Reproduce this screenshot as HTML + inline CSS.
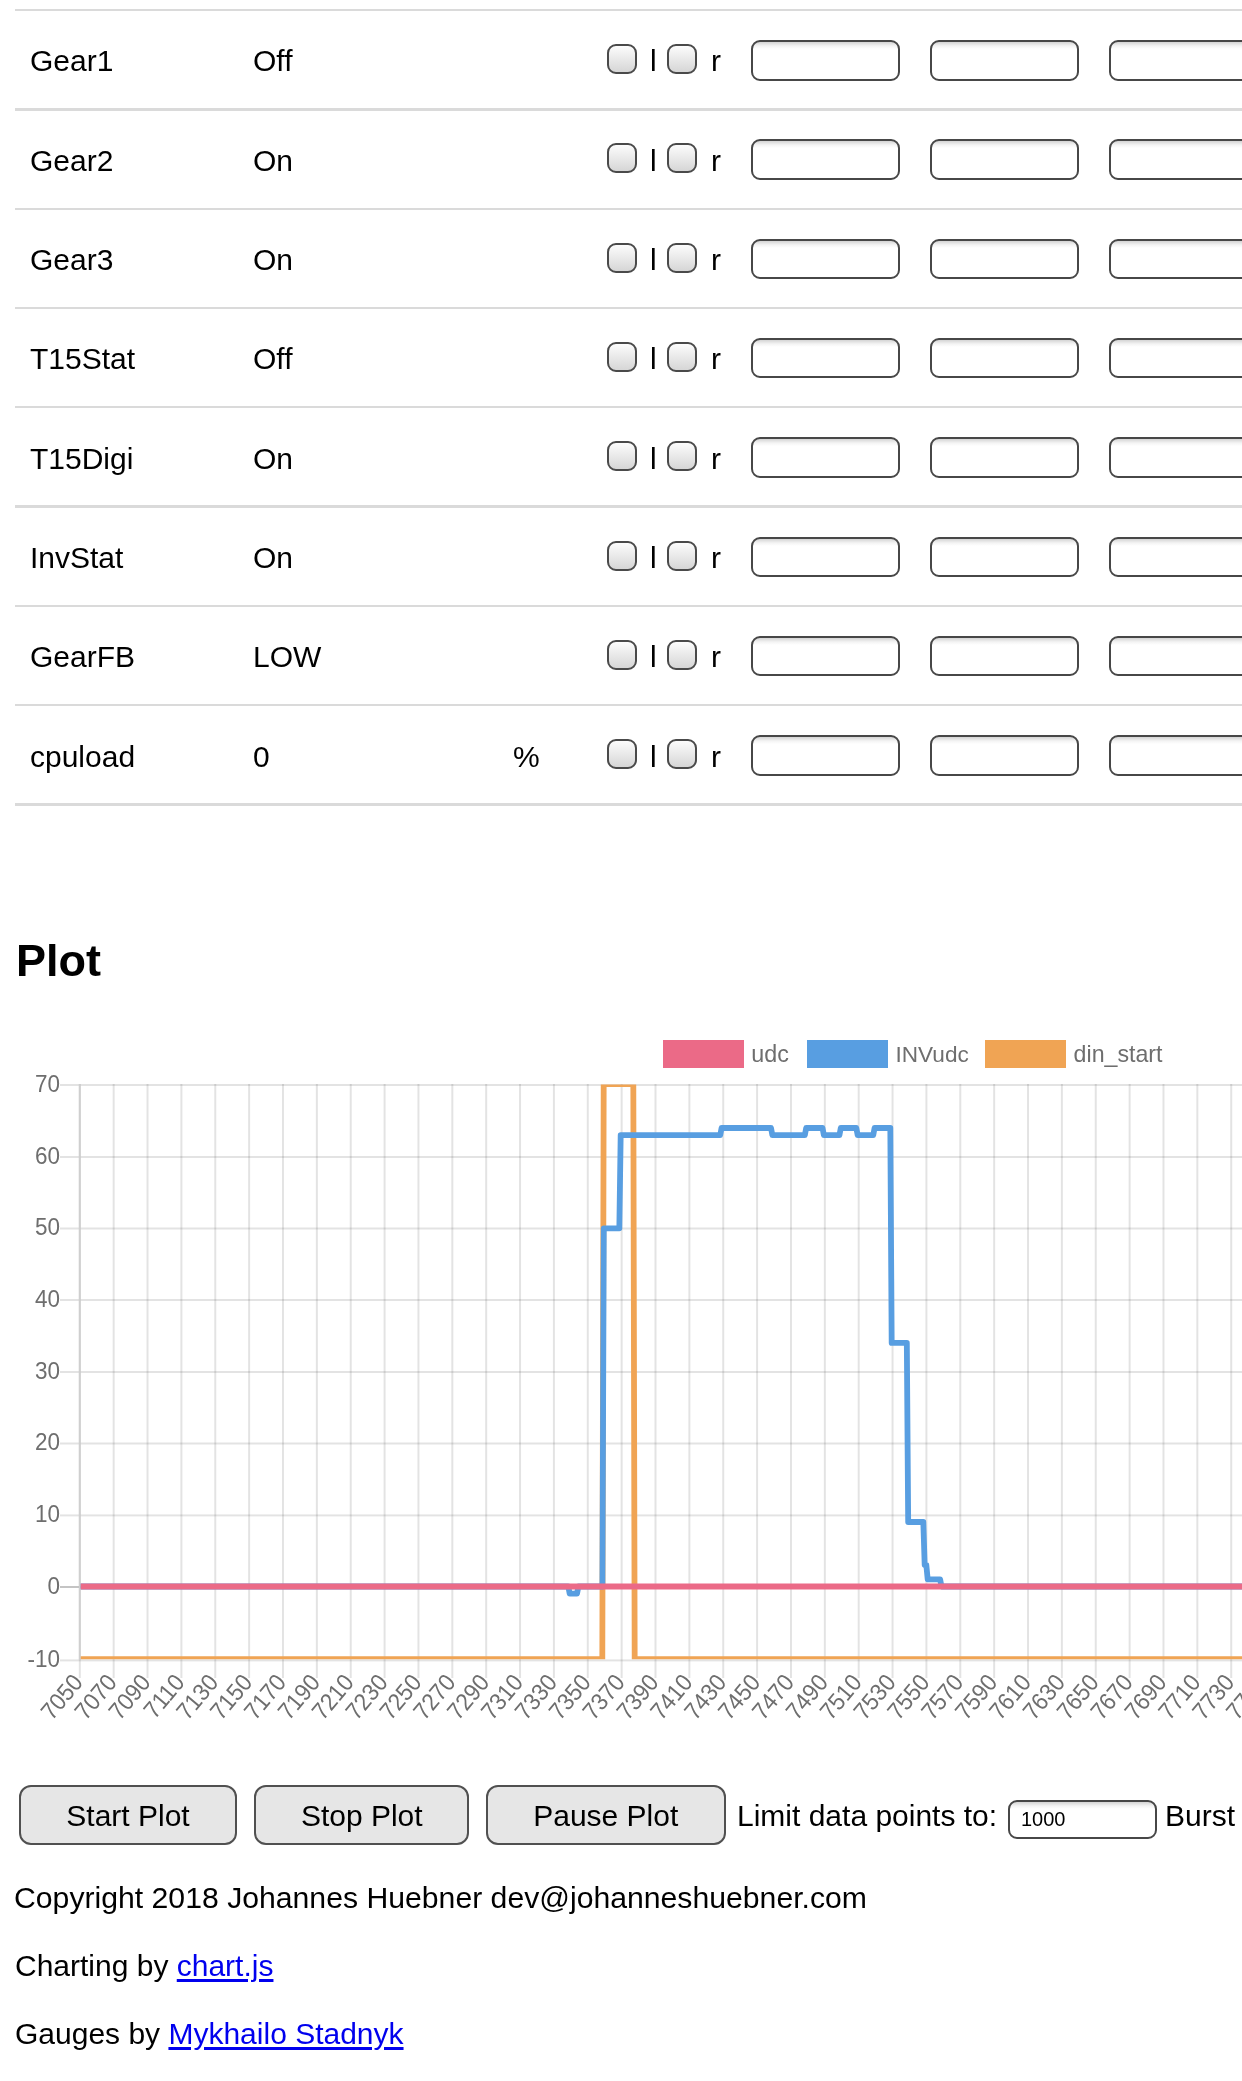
<!DOCTYPE html><html><head><meta charset="utf-8"><style>
html,body{margin:0;padding:0;background:#fff;}
body{width:1242px;height:2081px;overflow:hidden;position:relative;font-family:"Liberation Sans",sans-serif;}
.t{position:absolute;white-space:nowrap;will-change:transform;}
.line{position:absolute;left:15px;width:1227px;height:2.4px;background:#dadada;}
.cb{position:absolute;width:26px;height:26px;border:2px solid #4a4a4a;border-radius:9px;background:linear-gradient(#fcfcfc,#d6d6d6);}
.in{position:absolute;width:145px;height:36.6px;border:2px solid #474747;border-radius:9px;background:linear-gradient(#d4d4d4,#f4f4f4 4px,#fff 7px);}
.btn{position:absolute;height:59.5px;border:2px solid #505050;border-radius:12px;background:#e6e6e6;box-sizing:border-box;}
a{color:#0000ee;text-decoration:underline;text-underline-offset:3px;}
</style></head><body>
<div class="line" style="top:8.9px"></div>
<div class="line" style="top:108.2px"></div>
<div class="line" style="top:207.5px"></div>
<div class="line" style="top:306.8px"></div>
<div class="line" style="top:406.1px"></div>
<div class="line" style="top:505.4px"></div>
<div class="line" style="top:604.7px"></div>
<div class="line" style="top:704.0px"></div>
<div class="line" style="top:803.3px"></div>
<div class="t" style="left:29.5px;top:46.4px;font-size:30px;line-height:30px;color:#000;">Gear1</div>
<div class="t" style="left:252.6px;top:46.4px;font-size:30px;line-height:30px;color:#000;">Off</div>
<div class="cb" style="left:607px;top:44.0px"></div>
<div class="t" style="left:649.5px;top:46.4px;font-size:30px;line-height:30px;color:#000;">l</div>
<div class="cb" style="left:667px;top:44.0px"></div>
<div class="t" style="left:710.5px;top:46.4px;font-size:30px;line-height:30px;color:#000;">r</div>
<div class="in" style="left:751px;top:40.0px"></div>
<div class="in" style="left:930px;top:40.0px"></div>
<div class="in" style="left:1109px;top:40.0px"></div>
<div class="t" style="left:29.5px;top:145.7px;font-size:30px;line-height:30px;color:#000;">Gear2</div>
<div class="t" style="left:252.6px;top:145.7px;font-size:30px;line-height:30px;color:#000;">On</div>
<div class="cb" style="left:607px;top:143.3px"></div>
<div class="t" style="left:649.5px;top:145.7px;font-size:30px;line-height:30px;color:#000;">l</div>
<div class="cb" style="left:667px;top:143.3px"></div>
<div class="t" style="left:710.5px;top:145.7px;font-size:30px;line-height:30px;color:#000;">r</div>
<div class="in" style="left:751px;top:139.3px"></div>
<div class="in" style="left:930px;top:139.3px"></div>
<div class="in" style="left:1109px;top:139.3px"></div>
<div class="t" style="left:29.5px;top:245.0px;font-size:30px;line-height:30px;color:#000;">Gear3</div>
<div class="t" style="left:252.6px;top:245.0px;font-size:30px;line-height:30px;color:#000;">On</div>
<div class="cb" style="left:607px;top:242.6px"></div>
<div class="t" style="left:649.5px;top:245.0px;font-size:30px;line-height:30px;color:#000;">l</div>
<div class="cb" style="left:667px;top:242.6px"></div>
<div class="t" style="left:710.5px;top:245.0px;font-size:30px;line-height:30px;color:#000;">r</div>
<div class="in" style="left:751px;top:238.6px"></div>
<div class="in" style="left:930px;top:238.6px"></div>
<div class="in" style="left:1109px;top:238.6px"></div>
<div class="t" style="left:29.5px;top:344.3px;font-size:30px;line-height:30px;color:#000;">T15Stat</div>
<div class="t" style="left:252.6px;top:344.3px;font-size:30px;line-height:30px;color:#000;">Off</div>
<div class="cb" style="left:607px;top:341.9px"></div>
<div class="t" style="left:649.5px;top:344.3px;font-size:30px;line-height:30px;color:#000;">l</div>
<div class="cb" style="left:667px;top:341.9px"></div>
<div class="t" style="left:710.5px;top:344.3px;font-size:30px;line-height:30px;color:#000;">r</div>
<div class="in" style="left:751px;top:337.9px"></div>
<div class="in" style="left:930px;top:337.9px"></div>
<div class="in" style="left:1109px;top:337.9px"></div>
<div class="t" style="left:29.5px;top:443.6px;font-size:30px;line-height:30px;color:#000;">T15Digi</div>
<div class="t" style="left:252.6px;top:443.6px;font-size:30px;line-height:30px;color:#000;">On</div>
<div class="cb" style="left:607px;top:441.2px"></div>
<div class="t" style="left:649.5px;top:443.6px;font-size:30px;line-height:30px;color:#000;">l</div>
<div class="cb" style="left:667px;top:441.2px"></div>
<div class="t" style="left:710.5px;top:443.6px;font-size:30px;line-height:30px;color:#000;">r</div>
<div class="in" style="left:751px;top:437.2px"></div>
<div class="in" style="left:930px;top:437.2px"></div>
<div class="in" style="left:1109px;top:437.2px"></div>
<div class="t" style="left:29.5px;top:542.9px;font-size:30px;line-height:30px;color:#000;">InvStat</div>
<div class="t" style="left:252.6px;top:542.9px;font-size:30px;line-height:30px;color:#000;">On</div>
<div class="cb" style="left:607px;top:540.5px"></div>
<div class="t" style="left:649.5px;top:542.9px;font-size:30px;line-height:30px;color:#000;">l</div>
<div class="cb" style="left:667px;top:540.5px"></div>
<div class="t" style="left:710.5px;top:542.9px;font-size:30px;line-height:30px;color:#000;">r</div>
<div class="in" style="left:751px;top:536.5px"></div>
<div class="in" style="left:930px;top:536.5px"></div>
<div class="in" style="left:1109px;top:536.5px"></div>
<div class="t" style="left:29.5px;top:642.2px;font-size:30px;line-height:30px;color:#000;">GearFB</div>
<div class="t" style="left:252.6px;top:642.2px;font-size:30px;line-height:30px;color:#000;">LOW</div>
<div class="cb" style="left:607px;top:639.8px"></div>
<div class="t" style="left:649.5px;top:642.2px;font-size:30px;line-height:30px;color:#000;">l</div>
<div class="cb" style="left:667px;top:639.8px"></div>
<div class="t" style="left:710.5px;top:642.2px;font-size:30px;line-height:30px;color:#000;">r</div>
<div class="in" style="left:751px;top:635.8px"></div>
<div class="in" style="left:930px;top:635.8px"></div>
<div class="in" style="left:1109px;top:635.8px"></div>
<div class="t" style="left:29.5px;top:741.5px;font-size:30px;line-height:30px;color:#000;">cpuload</div>
<div class="t" style="left:252.6px;top:741.5px;font-size:30px;line-height:30px;color:#000;">0</div>
<div class="t" style="left:513.0px;top:741.5px;font-size:30px;line-height:30px;color:#000;">%</div>
<div class="cb" style="left:607px;top:739.1px"></div>
<div class="t" style="left:649.5px;top:741.5px;font-size:30px;line-height:30px;color:#000;">l</div>
<div class="cb" style="left:667px;top:739.1px"></div>
<div class="t" style="left:710.5px;top:741.5px;font-size:30px;line-height:30px;color:#000;">r</div>
<div class="in" style="left:751px;top:735.1px"></div>
<div class="in" style="left:930px;top:735.1px"></div>
<div class="in" style="left:1109px;top:735.1px"></div>
<div class="t" style="left:15.5px;top:937.9px;font-size:45px;line-height:45px;color:#000;font-weight:bold;">Plot</div>
<svg style="position:absolute;left:0;top:0;will-change:transform" width="1242" height="2081">
<defs><clipPath id="ca"><rect x="79" y="1084.5" width="1200" height="574.8"/></clipPath></defs>
<rect x="663" y="1040" width="81" height="28" fill="rgb(235,106,135)"/>
<text x="751.3" y="1061.5" font-family="Liberation Sans" font-size="23.3" fill="#6e6e6e">udc</text>
<rect x="807" y="1040" width="81" height="28" fill="rgb(88,158,225)"/>
<text x="895.5" y="1061.5" font-family="Liberation Sans" font-size="22.6" fill="#6e6e6e">INVudc</text>
<rect x="985" y="1040" width="81" height="28" fill="rgb(240,164,84)"/>
<text x="1073.6" y="1061.5" font-family="Liberation Sans" font-size="23.2" fill="#6e6e6e">din_start</text>
<rect x="60" y="1084.0" width="1182" height="2" fill="rgba(0,0,0,0.11)"/>
<text transform="translate(60,1091.8) scale(1,1.07)" x="0" y="0" text-anchor="end" font-family="Liberation Sans" font-size="22.5" fill="#6e6e6e">70</text>
<rect x="60" y="1156.0" width="1182" height="2" fill="rgba(0,0,0,0.11)"/>
<text transform="translate(60,1163.8) scale(1,1.07)" x="0" y="0" text-anchor="end" font-family="Liberation Sans" font-size="22.5" fill="#6e6e6e">60</text>
<rect x="60" y="1227.5" width="1182" height="2" fill="rgba(0,0,0,0.11)"/>
<text transform="translate(60,1235.3) scale(1,1.07)" x="0" y="0" text-anchor="end" font-family="Liberation Sans" font-size="22.5" fill="#6e6e6e">50</text>
<rect x="60" y="1299.0" width="1182" height="2" fill="rgba(0,0,0,0.11)"/>
<text transform="translate(60,1306.8) scale(1,1.07)" x="0" y="0" text-anchor="end" font-family="Liberation Sans" font-size="22.5" fill="#6e6e6e">40</text>
<rect x="60" y="1371.0" width="1182" height="2" fill="rgba(0,0,0,0.11)"/>
<text transform="translate(60,1378.8) scale(1,1.07)" x="0" y="0" text-anchor="end" font-family="Liberation Sans" font-size="22.5" fill="#6e6e6e">30</text>
<rect x="60" y="1442.5" width="1182" height="2" fill="rgba(0,0,0,0.11)"/>
<text transform="translate(60,1450.3) scale(1,1.07)" x="0" y="0" text-anchor="end" font-family="Liberation Sans" font-size="22.5" fill="#6e6e6e">20</text>
<rect x="60" y="1514.4" width="1182" height="2" fill="rgba(0,0,0,0.11)"/>
<text transform="translate(60,1522.2) scale(1,1.07)" x="0" y="0" text-anchor="end" font-family="Liberation Sans" font-size="22.5" fill="#6e6e6e">10</text>
<rect x="60" y="1586.0" width="1182" height="2" fill="#c4c4c4"/>
<text transform="translate(60,1593.8) scale(1,1.07)" x="0" y="0" text-anchor="end" font-family="Liberation Sans" font-size="22.5" fill="#6e6e6e">0</text>
<rect x="60" y="1659.4" width="1182" height="2" fill="rgba(0,0,0,0.11)"/>
<text transform="translate(60,1667.2) scale(1,1.07)" x="0" y="0" text-anchor="end" font-family="Liberation Sans" font-size="22.5" fill="#6e6e6e">-10</text>
<rect x="78.80" y="1084" width="2" height="594" fill="rgba(0,0,0,0.11)"/>
<rect x="78.80" y="1084" width="2" height="576" fill="#cfcfcf"/>
<text transform="translate(78.80,1678.5) rotate(-50) translate(0,7) scale(1,1.07)" x="0" y="0" text-anchor="end" font-family="Liberation Sans" font-size="22.5" fill="#6e6e6e">7050</text>
<rect x="112.66" y="1084" width="2" height="594" fill="rgba(0,0,0,0.11)"/>
<text transform="translate(112.66,1678.5) rotate(-50) translate(0,7) scale(1,1.07)" x="0" y="0" text-anchor="end" font-family="Liberation Sans" font-size="22.5" fill="#6e6e6e">7070</text>
<rect x="146.53" y="1084" width="2" height="594" fill="rgba(0,0,0,0.11)"/>
<text transform="translate(146.53,1678.5) rotate(-50) translate(0,7) scale(1,1.07)" x="0" y="0" text-anchor="end" font-family="Liberation Sans" font-size="22.5" fill="#6e6e6e">7090</text>
<rect x="180.39" y="1084" width="2" height="594" fill="rgba(0,0,0,0.11)"/>
<text transform="translate(180.39,1678.5) rotate(-50) translate(0,7) scale(1,1.07)" x="0" y="0" text-anchor="end" font-family="Liberation Sans" font-size="22.5" fill="#6e6e6e">7110</text>
<rect x="214.26" y="1084" width="2" height="594" fill="rgba(0,0,0,0.11)"/>
<text transform="translate(214.26,1678.5) rotate(-50) translate(0,7) scale(1,1.07)" x="0" y="0" text-anchor="end" font-family="Liberation Sans" font-size="22.5" fill="#6e6e6e">7130</text>
<rect x="248.12" y="1084" width="2" height="594" fill="rgba(0,0,0,0.11)"/>
<text transform="translate(248.12,1678.5) rotate(-50) translate(0,7) scale(1,1.07)" x="0" y="0" text-anchor="end" font-family="Liberation Sans" font-size="22.5" fill="#6e6e6e">7150</text>
<rect x="281.99" y="1084" width="2" height="594" fill="rgba(0,0,0,0.11)"/>
<text transform="translate(281.99,1678.5) rotate(-50) translate(0,7) scale(1,1.07)" x="0" y="0" text-anchor="end" font-family="Liberation Sans" font-size="22.5" fill="#6e6e6e">7170</text>
<rect x="315.86" y="1084" width="2" height="594" fill="rgba(0,0,0,0.11)"/>
<text transform="translate(315.86,1678.5) rotate(-50) translate(0,7) scale(1,1.07)" x="0" y="0" text-anchor="end" font-family="Liberation Sans" font-size="22.5" fill="#6e6e6e">7190</text>
<rect x="349.72" y="1084" width="2" height="594" fill="rgba(0,0,0,0.11)"/>
<text transform="translate(349.72,1678.5) rotate(-50) translate(0,7) scale(1,1.07)" x="0" y="0" text-anchor="end" font-family="Liberation Sans" font-size="22.5" fill="#6e6e6e">7210</text>
<rect x="383.59" y="1084" width="2" height="594" fill="rgba(0,0,0,0.11)"/>
<text transform="translate(383.59,1678.5) rotate(-50) translate(0,7) scale(1,1.07)" x="0" y="0" text-anchor="end" font-family="Liberation Sans" font-size="22.5" fill="#6e6e6e">7230</text>
<rect x="417.45" y="1084" width="2" height="594" fill="rgba(0,0,0,0.11)"/>
<text transform="translate(417.45,1678.5) rotate(-50) translate(0,7) scale(1,1.07)" x="0" y="0" text-anchor="end" font-family="Liberation Sans" font-size="22.5" fill="#6e6e6e">7250</text>
<rect x="451.32" y="1084" width="2" height="594" fill="rgba(0,0,0,0.11)"/>
<text transform="translate(451.32,1678.5) rotate(-50) translate(0,7) scale(1,1.07)" x="0" y="0" text-anchor="end" font-family="Liberation Sans" font-size="22.5" fill="#6e6e6e">7270</text>
<rect x="485.18" y="1084" width="2" height="594" fill="rgba(0,0,0,0.11)"/>
<text transform="translate(485.18,1678.5) rotate(-50) translate(0,7) scale(1,1.07)" x="0" y="0" text-anchor="end" font-family="Liberation Sans" font-size="22.5" fill="#6e6e6e">7290</text>
<rect x="519.04" y="1084" width="2" height="594" fill="rgba(0,0,0,0.11)"/>
<text transform="translate(519.04,1678.5) rotate(-50) translate(0,7) scale(1,1.07)" x="0" y="0" text-anchor="end" font-family="Liberation Sans" font-size="22.5" fill="#6e6e6e">7310</text>
<rect x="552.91" y="1084" width="2" height="594" fill="rgba(0,0,0,0.11)"/>
<text transform="translate(552.91,1678.5) rotate(-50) translate(0,7) scale(1,1.07)" x="0" y="0" text-anchor="end" font-family="Liberation Sans" font-size="22.5" fill="#6e6e6e">7330</text>
<rect x="586.77" y="1084" width="2" height="594" fill="rgba(0,0,0,0.11)"/>
<text transform="translate(586.77,1678.5) rotate(-50) translate(0,7) scale(1,1.07)" x="0" y="0" text-anchor="end" font-family="Liberation Sans" font-size="22.5" fill="#6e6e6e">7350</text>
<rect x="620.64" y="1084" width="2" height="594" fill="rgba(0,0,0,0.11)"/>
<text transform="translate(620.64,1678.5) rotate(-50) translate(0,7) scale(1,1.07)" x="0" y="0" text-anchor="end" font-family="Liberation Sans" font-size="22.5" fill="#6e6e6e">7370</text>
<rect x="654.50" y="1084" width="2" height="594" fill="rgba(0,0,0,0.11)"/>
<text transform="translate(654.50,1678.5) rotate(-50) translate(0,7) scale(1,1.07)" x="0" y="0" text-anchor="end" font-family="Liberation Sans" font-size="22.5" fill="#6e6e6e">7390</text>
<rect x="688.37" y="1084" width="2" height="594" fill="rgba(0,0,0,0.11)"/>
<text transform="translate(688.37,1678.5) rotate(-50) translate(0,7) scale(1,1.07)" x="0" y="0" text-anchor="end" font-family="Liberation Sans" font-size="22.5" fill="#6e6e6e">7410</text>
<rect x="722.24" y="1084" width="2" height="594" fill="rgba(0,0,0,0.11)"/>
<text transform="translate(722.24,1678.5) rotate(-50) translate(0,7) scale(1,1.07)" x="0" y="0" text-anchor="end" font-family="Liberation Sans" font-size="22.5" fill="#6e6e6e">7430</text>
<rect x="756.10" y="1084" width="2" height="594" fill="rgba(0,0,0,0.11)"/>
<text transform="translate(756.10,1678.5) rotate(-50) translate(0,7) scale(1,1.07)" x="0" y="0" text-anchor="end" font-family="Liberation Sans" font-size="22.5" fill="#6e6e6e">7450</text>
<rect x="789.97" y="1084" width="2" height="594" fill="rgba(0,0,0,0.11)"/>
<text transform="translate(789.97,1678.5) rotate(-50) translate(0,7) scale(1,1.07)" x="0" y="0" text-anchor="end" font-family="Liberation Sans" font-size="22.5" fill="#6e6e6e">7470</text>
<rect x="823.83" y="1084" width="2" height="594" fill="rgba(0,0,0,0.11)"/>
<text transform="translate(823.83,1678.5) rotate(-50) translate(0,7) scale(1,1.07)" x="0" y="0" text-anchor="end" font-family="Liberation Sans" font-size="22.5" fill="#6e6e6e">7490</text>
<rect x="857.70" y="1084" width="2" height="594" fill="rgba(0,0,0,0.11)"/>
<text transform="translate(857.70,1678.5) rotate(-50) translate(0,7) scale(1,1.07)" x="0" y="0" text-anchor="end" font-family="Liberation Sans" font-size="22.5" fill="#6e6e6e">7510</text>
<rect x="891.56" y="1084" width="2" height="594" fill="rgba(0,0,0,0.11)"/>
<text transform="translate(891.56,1678.5) rotate(-50) translate(0,7) scale(1,1.07)" x="0" y="0" text-anchor="end" font-family="Liberation Sans" font-size="22.5" fill="#6e6e6e">7530</text>
<rect x="925.42" y="1084" width="2" height="594" fill="rgba(0,0,0,0.11)"/>
<text transform="translate(925.42,1678.5) rotate(-50) translate(0,7) scale(1,1.07)" x="0" y="0" text-anchor="end" font-family="Liberation Sans" font-size="22.5" fill="#6e6e6e">7550</text>
<rect x="959.29" y="1084" width="2" height="594" fill="rgba(0,0,0,0.11)"/>
<text transform="translate(959.29,1678.5) rotate(-50) translate(0,7) scale(1,1.07)" x="0" y="0" text-anchor="end" font-family="Liberation Sans" font-size="22.5" fill="#6e6e6e">7570</text>
<rect x="993.15" y="1084" width="2" height="594" fill="rgba(0,0,0,0.11)"/>
<text transform="translate(993.15,1678.5) rotate(-50) translate(0,7) scale(1,1.07)" x="0" y="0" text-anchor="end" font-family="Liberation Sans" font-size="22.5" fill="#6e6e6e">7590</text>
<rect x="1027.02" y="1084" width="2" height="594" fill="rgba(0,0,0,0.11)"/>
<text transform="translate(1027.02,1678.5) rotate(-50) translate(0,7) scale(1,1.07)" x="0" y="0" text-anchor="end" font-family="Liberation Sans" font-size="22.5" fill="#6e6e6e">7610</text>
<rect x="1060.88" y="1084" width="2" height="594" fill="rgba(0,0,0,0.11)"/>
<text transform="translate(1060.88,1678.5) rotate(-50) translate(0,7) scale(1,1.07)" x="0" y="0" text-anchor="end" font-family="Liberation Sans" font-size="22.5" fill="#6e6e6e">7630</text>
<rect x="1094.75" y="1084" width="2" height="594" fill="rgba(0,0,0,0.11)"/>
<text transform="translate(1094.75,1678.5) rotate(-50) translate(0,7) scale(1,1.07)" x="0" y="0" text-anchor="end" font-family="Liberation Sans" font-size="22.5" fill="#6e6e6e">7650</text>
<rect x="1128.62" y="1084" width="2" height="594" fill="rgba(0,0,0,0.11)"/>
<text transform="translate(1128.62,1678.5) rotate(-50) translate(0,7) scale(1,1.07)" x="0" y="0" text-anchor="end" font-family="Liberation Sans" font-size="22.5" fill="#6e6e6e">7670</text>
<rect x="1162.48" y="1084" width="2" height="594" fill="rgba(0,0,0,0.11)"/>
<text transform="translate(1162.48,1678.5) rotate(-50) translate(0,7) scale(1,1.07)" x="0" y="0" text-anchor="end" font-family="Liberation Sans" font-size="22.5" fill="#6e6e6e">7690</text>
<rect x="1196.35" y="1084" width="2" height="594" fill="rgba(0,0,0,0.11)"/>
<text transform="translate(1196.35,1678.5) rotate(-50) translate(0,7) scale(1,1.07)" x="0" y="0" text-anchor="end" font-family="Liberation Sans" font-size="22.5" fill="#6e6e6e">7710</text>
<rect x="1230.21" y="1084" width="2" height="594" fill="rgba(0,0,0,0.11)"/>
<text transform="translate(1230.21,1678.5) rotate(-50) translate(0,7) scale(1,1.07)" x="0" y="0" text-anchor="end" font-family="Liberation Sans" font-size="22.5" fill="#6e6e6e">7730</text>
<rect x="1264.08" y="1084" width="2" height="594" fill="rgba(0,0,0,0.11)"/>
<text transform="translate(1264.08,1678.5) rotate(-50) translate(0,7) scale(1,1.07)" x="0" y="0" text-anchor="end" font-family="Liberation Sans" font-size="22.5" fill="#6e6e6e">7750</text>
<rect x="1297.94" y="1084" width="2" height="594" fill="rgba(0,0,0,0.11)"/>
<text transform="translate(1297.94,1678.5) rotate(-50) translate(0,7) scale(1,1.07)" x="0" y="0" text-anchor="end" font-family="Liberation Sans" font-size="22.5" fill="#6e6e6e">7770</text>
<g clip-path="url(#ca)" fill="none" stroke-width="5.8" stroke-linejoin="round" stroke-linecap="butt">
<polyline points="80.70,1659.14 602.32,1659.14 603.68,1084.02 633.32,1084.02 634.68,1659.14 1333.71,1659.14" stroke="rgb(240,164,84)"/>
<polyline points="80.70,1586.50 568.32,1586.50 569.68,1593.66 577.02,1593.66 578.38,1586.50 602.42,1586.50 603.78,1228.30 619.32,1228.30 620.68,1135.17 720.22,1135.17 721.58,1128.00 771.02,1128.00 772.38,1135.17 804.82,1135.17 806.18,1128.00 822.52,1128.00 823.88,1135.17 839.42,1135.17 840.78,1128.00 856.32,1128.00 857.68,1135.17 873.22,1135.17 874.58,1128.00 890.32,1128.00 891.68,1342.92 906.82,1342.92 908.18,1522.02 923.32,1522.02 924.68,1565.01 926.32,1565.01 927.68,1579.34 940.12,1579.34 941.48,1586.50 1333.71,1586.50" stroke="rgb(88,158,225)"/>
<polyline points="80.70,1586.50 1333.71,1586.50" stroke="rgb(235,106,135)"/>
</g>
</svg>
<div class="btn" style="left:19px;top:1785px;width:218px"></div>
<div class="t" style="left:19px;width:218px;text-align:center;top:1800.6px;font-size:30px;line-height:30px">Start Plot</div>
<div class="btn" style="left:253.5px;top:1785px;width:215.5px"></div>
<div class="t" style="left:253.5px;width:215.5px;text-align:center;top:1800.6px;font-size:30px;line-height:30px">Stop Plot</div>
<div class="btn" style="left:486px;top:1785px;width:239.5px"></div>
<div class="t" style="left:486px;width:239.5px;text-align:center;top:1800.6px;font-size:30px;line-height:30px">Pause Plot</div>
<div class="t" style="left:737.0px;top:1800.6px;font-size:30px;line-height:30px;color:#000;">Limit data points to:</div>
<div class="in" style="left:1008px;top:1799.5px;width:144.5px;height:35.5px;border-width:2px;border-radius:9px"></div>
<div class="t" style="left:1021.0px;top:1809.1px;font-size:20px;line-height:20px;color:#000;">1000</div>
<div class="t" style="left:1165.0px;top:1800.6px;font-size:30px;line-height:30px;color:#000;">Burst</div>
<div class="t" style="left:13.6px;top:1882.9px;font-size:30.2px;line-height:30.2px;color:#000;">Copyright 2018 Johannes Huebner dev@johanneshuebner.com</div>
<div class="t" style="left:14.5px;top:1951.1px;font-size:30px;line-height:30px;color:#000;">Charting by <a>chart.js</a></div>
<div class="t" style="left:14.5px;top:2019.1px;font-size:30px;line-height:30px;color:#000;">Gauges by <a>Mykhailo Stadnyk</a></div>
</body></html>
